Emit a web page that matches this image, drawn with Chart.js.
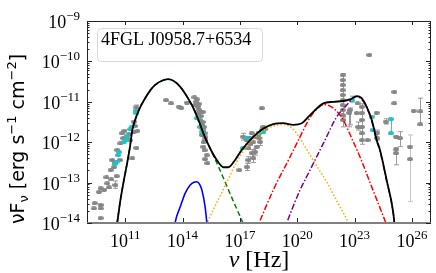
<!DOCTYPE html>
<html>
<head>
<meta charset="utf-8">
<script src="https://cdn.jsdelivr.net/npm/chart.js@4.4.1/dist/chart.umd.min.js"></script>
<style>
html, body { margin: 0; padding: 0; background: #fff; }
#wrap { width: 436px; height: 273px; }
</style>
</head>
<body>
<div id="wrap"><canvas id="sed"></canvas></div>
<script>
// everything below is log10(nu / Hz) and log10(nuFnu / erg s-1 cm-2)
const xTickExps = [11, 14, 17, 20, 23, 26];
const yTickExps = [-9, -10, -11, -12, -13, -14];
const sourceName = '4FGL J0958.7+6534';

const grayPts = [
    // radio / mm
    [11.59, -11.14], [11.45, -11.74], [11.63, -11.72], [10.96, -11.72], [11.07, -11.86],
    [11.25, -11.95], [11.59, -12.14], [10.75, -12.03], [10.58, -12.19], [10.72, -12.44],
    [11.37, -12.40], [10.32, -12.44], [10.23, -12.69], [10.41, -12.62], [10.55, -12.84],
    [10.02, -12.87], [10.27, -12.92], [10.06, -13.02], [9.71, -13.14], [9.63, -13.23],
    [9.89, -13.18], [10.15, -13.12], [10.49, -13.06], [9.40, -13.51], [9.71, -13.55],
    [9.71, -13.64], [9.36, -13.64], [9.71, -13.88], [11.45, -11.49], [10.84, -11.78],
    [10.90, -11.90], [11.50, -11.60], [11.20, -11.80], [10.45, -12.50],
    // IR / optical / UV
    [13.14, -10.96], [13.40, -11.04], [13.82, -11.12], [13.93, -11.15], [14.23, -11.02],
    [14.62, -10.89], [14.75, -10.94], [14.66, -11.08], [14.80, -11.12], [14.83, -11.28],
    [14.92, -11.45], [15.01, -11.57], [15.09, -11.70], [15.01, -11.82], [15.18, -11.95],
    [15.09, -12.11], [15.27, -12.32], [15.18, -12.42], [15.30, -12.52], [14.88, -11.20],
    [14.95, -11.35], [15.05, -11.50], [15.12, -11.62], [15.00, -11.65], [15.15, -11.78],
    [15.20, -11.88], [15.10, -12.00], [14.70, -11.00], [14.85, -11.05], [15.05, -11.25],
    [15.15, -12.20],
    // X-ray
    [18.15, -11.16], [17.18, -11.86], [17.36, -11.95], [17.53, -11.90], [17.62, -11.78],
    [17.80, -11.86], [17.97, -11.82], [18.15, -11.70], [18.23, -11.62], [18.32, -11.68],
    [17.45, -12.15], [17.62, -12.27], [17.71, -12.40], [17.45, -12.44], [17.88, -12.11],
    [18.06, -11.99], [17.80, -12.24], [16.97, -12.69], [17.36, -12.61], [17.55, -12.05],
    [17.70, -12.00], [18.00, -11.90],
    // gamma-ray
    [22.38, -10.34], [22.38, -10.46], [22.38, -10.58], [22.38, -10.71], [22.38, -10.83],
    [22.38, -10.96], [22.38, -11.08], [22.38, -11.20], [22.38, -11.33], [22.41, -11.45],
    [22.72, -11.27], [22.76, -11.20], [23.16, -11.04], [23.11, -11.28], [23.19, -11.62],
    [23.38, -11.12], [23.38, -11.28], [23.38, -11.45], [23.38, -11.62], [23.38, -11.78],
    [23.38, -11.95], [23.68, -11.95], [23.77, -9.84], [24.15, -11.27], [24.19, -11.76],
    [24.19, -11.90], [24.64, -11.49], [25.08, -10.75], [25.08, -11.04], [25.17, -11.86],
    [25.17, -12.18], [25.17, -12.27], [25.38, -11.90], [25.90, -12.11], [25.90, -12.42],
    [26.09, -11.22], [26.44, -11.24], [26.44, -11.56]
];
// [logNu, low, high]
const grayErr = [
    [11.59, -11.20, -11.08], [10.49, -13.14, -12.96],
    [17.18, -11.95, -11.78], [17.36, -12.05, -11.86], [17.62, -12.37, -12.18],
    [17.71, -12.50, -12.30], [17.45, -12.52, -12.36], [17.80, -12.32, -12.15],
    [18.06, -12.08, -11.90], [17.97, -11.90, -11.74], [17.36, -12.70, -12.52],
    [18.15, -11.78, -11.62],
    [22.38, -11.36, -10.30], [22.41, -11.62, -11.38], [22.72, -11.62, -11.20],
    [22.76, -11.57, -11.15], [23.38, -12.05, -11.05], [23.19, -11.70, -11.50],
    [24.19, -11.95, -11.70], [24.64, -11.55, -11.42], [25.17, -12.56, -12.15],
    [25.38, -12.11, -11.74], [26.44, -11.57, -10.91]
];
const paleErr = [
    [25.90, -13.47, -11.82]
];
const cyanPts = [
    [11.54, -11.22], [11.59, -11.28], [11.33, -11.62], [11.25, -11.68], [11.10, -11.84],
    [10.93, -11.99], [11.02, -11.95], [10.67, -12.24], [10.62, -12.32], [10.55, -12.48],
    [10.44, -12.54],
    [14.75, -11.41], [14.92, -11.62], [15.04, -11.74],
    [17.15, -12.15], [17.36, -11.90], [18.02, -11.78], [18.23, -11.74],
    [22.88, -10.96], [23.90, -11.37], [23.95, -11.70], [24.90, -11.43], [24.90, -11.78]
];
const cyanErr = [
    [22.88, -11.01, -10.86], [24.90, -11.78, -11.43]
];

const totalModel = [
    [10.52, -14.20], [10.58, -14.00], [10.75, -13.43], [10.93, -12.94], [11.10, -12.52],
    [11.25, -12.11], [11.37, -11.70], [11.49, -11.49], [11.72, -11.20], [11.98, -10.96],
    [12.32, -10.71], [12.57, -10.58], [12.92, -10.48], [13.23, -10.44], [13.52, -10.48],
    [13.88, -10.63], [14.23, -10.87], [14.57, -11.16], [14.83, -11.45], [15.09, -11.78],
    [15.44, -12.15], [15.79, -12.44], [16.14, -12.62], [16.40, -12.62], [16.75, -12.44],
    [17.10, -12.19], [17.71, -11.86], [18.23, -11.66], [18.75, -11.55], [19.27, -11.53],
    [19.80, -11.57], [20.24, -11.53], [20.67, -11.33], [21.37, -11.04], [21.89, -11.00],
    [22.41, -10.98], [22.76, -10.94], [23.11, -10.86], [23.37, -10.91], [23.63, -11.12],
    [23.90, -11.45], [24.16, -11.95], [24.33, -12.19], [24.68, -12.94], [25.03, -13.76],
    [25.12, -14.20]
];
const synModel = [
    [10.52, -14.20], [10.58, -14.00], [10.75, -13.43], [10.93, -12.94], [11.10, -12.52],
    [11.25, -12.11], [11.37, -11.70], [11.49, -11.49], [11.72, -11.20], [11.98, -10.96],
    [12.32, -10.71], [12.57, -10.58], [12.92, -10.48], [13.23, -10.44], [13.52, -10.48],
    [13.88, -10.63], [14.23, -10.87], [14.57, -11.16], [14.83, -11.45], [15.09, -11.78],
    [15.44, -12.15], [15.79, -12.51], [16.15, -12.90], [16.50, -13.29], [16.90, -13.72],
    [17.15, -13.99], [17.30, -14.20]
];
const sscModel = [
    [15.07, -14.20], [15.27, -14.00], [15.80, -13.49], [16.30, -13.01], [16.84, -12.48],
    [17.30, -12.15], [17.71, -11.92], [18.23, -11.72], [18.75, -11.60], [19.27, -11.56],
    [19.75, -11.66], [20.20, -11.95], [20.90, -12.50], [21.54, -12.98], [22.10, -13.48],
    [22.75, -14.05], [22.90, -14.20]
];
const ecModelA = [
    [17.82, -14.20], [18.00, -14.00], [18.75, -13.18], [19.63, -12.36], [20.06, -11.95],
    [20.67, -11.39], [21.05, -11.17], [21.40, -11.07], [21.89, -11.16], [22.41, -11.45],
    [22.85, -11.90], [23.28, -12.36], [23.96, -13.18], [24.64, -14.00], [24.80, -14.20]
];
const ecModelB = [
    [19.30, -14.20], [19.45, -14.00], [20.15, -13.18], [20.67, -12.69], [21.45, -11.95],
    [22.07, -11.37], [22.59, -11.08], [22.93, -10.91], [23.13, -10.87], [23.37, -10.94],
    [23.63, -11.14], [23.90, -11.48], [24.16, -11.97], [24.33, -12.22], [24.68, -12.96],
    [25.03, -13.78], [25.12, -14.20]
];
const diskModel = [
    [13.55, -14.20], [13.61, -13.99], [13.88, -13.60], [14.14, -13.26], [14.40, -13.06],
    [14.60, -12.99], [14.75, -12.98], [14.90, -13.05], [15.01, -13.18], [15.18, -13.60],
    [15.27, -13.99], [15.32, -14.20]
];

const toPts = arr => arr.map(p => ({ x: Math.pow(10, p[0]), y: Math.pow(10, p[1]) }));

function blob(w, h, color) {
    const c = document.createElement('canvas');
    c.width = w; c.height = h;
    const g = c.getContext('2d');
    g.fillStyle = color;
    g.beginPath();
    g.ellipse(w / 2, h / 2, w / 2, h / 2, 0, 0, Math.PI * 2);
    g.fill();
    return c;
}
const grayMark = blob(6, 4, '#868686');
const cyanMark = blob(6, 4, '#22c0c2');

function modelLine(data, color, width, dash) {
    return {
        data: toPts(data),
        showLine: true,
        borderColor: color,
        borderWidth: width,
        borderDash: dash,
        pointRadius: 0,
        cubicInterpolationMode: 'monotone',
        clip: 0
    };
}

function drawPow(ctx, x, y, exp, align) {
    const big = "18px 'Liberation Serif', serif";
    const small = "13px 'Liberation Serif', serif";
    const sup = String(exp).replace('-', '\u2212');
    ctx.font = big;
    const wb = ctx.measureText('10').width;
    ctx.font = small;
    const ws = ctx.measureText(sup).width;
    let x0 = align === 'right' ? x - wb - ws : x - (wb + ws) / 2;
    ctx.textAlign = 'left';
    ctx.textBaseline = 'alphabetic';
    ctx.font = big;
    ctx.fillText('10', x0, y);
    ctx.font = small;
    ctx.fillText(sup, x0 + wb, y - 8);
}

const sedAxes = {
    id: 'sedAxes',
    beforeDatasetsDraw(chart) {
        const { ctx, chartArea: a, scales: { x, y } } = chart;
        ctx.save();
        ctx.beginPath();
        ctx.rect(a.left, a.top, a.right - a.left, a.bottom - a.top);
        ctx.clip();
        const bars = (list, color) => {
            ctx.strokeStyle = color;
            ctx.lineWidth = 1;
            list.forEach(e => {
                const px = Math.round(x.getPixelForValue(Math.pow(10, e[0]))) + 0.5;
                const lo = y.getPixelForValue(Math.pow(10, e[1]));
                const hi = y.getPixelForValue(Math.pow(10, e[2]));
                ctx.beginPath();
                ctx.moveTo(px, lo); ctx.lineTo(px, hi);
                ctx.moveTo(px - 2.5, lo); ctx.lineTo(px + 2.5, lo);
                ctx.moveTo(px - 2.5, hi); ctx.lineTo(px + 2.5, hi);
                ctx.stroke();
            });
        };
        bars(paleErr, '#c4c4c4');
        bars(grayErr, '#9a9a9a');
        bars(cyanErr, '#3cc6c8');
        ctx.restore();
    },
    afterDraw(chart) {
        const { ctx, chartArea: a, scales: { x, y } } = chart;
        ctx.save();
        ctx.fillStyle = '#000';
        ctx.strokeStyle = '#222';
        ctx.lineWidth = 1;

        // frame
        ctx.beginPath();
        ctx.moveTo(a.left + 0.5, a.bottom);
        ctx.lineTo(a.left + 0.5, a.top + 0.5);
        ctx.lineTo(a.right - 0.5, a.top + 0.5);
        ctx.lineTo(a.right - 0.5, a.bottom);
        ctx.stroke();
        ctx.strokeStyle = '#808080';
        ctx.lineWidth = 2;
        ctx.beginPath();
        ctx.moveTo(a.left, a.bottom);
        ctx.lineTo(a.right, a.bottom);
        ctx.stroke();

        // inward ticks
        ctx.strokeStyle = '#222';
        ctx.lineWidth = 1;
        ctx.beginPath();
        xTickExps.forEach(e => {
            const px = Math.round(x.getPixelForValue(Math.pow(10, e))) + 0.5;
            ctx.moveTo(px, a.top); ctx.lineTo(px, a.top + 4);
            ctx.moveTo(px, a.bottom - 1); ctx.lineTo(px, a.bottom - 5);
        });
        for (let d = -14; d <= -9; d++) {
            for (let k = 1; k <= 9; k++) {
                if (d === -9 && k > 1) break;
                const py = Math.round(y.getPixelForValue(k * Math.pow(10, d))) + 0.5;
                const len = k === 1 ? 5 : 2.5;
                ctx.moveTo(a.left, py); ctx.lineTo(a.left + len, py);
                ctx.moveTo(a.right, py); ctx.lineTo(a.right - len, py);
            }
        }
        ctx.stroke();

        // tick labels
        xTickExps.forEach(e => drawPow(ctx, x.getPixelForValue(Math.pow(10, e)), 247, e, 'center'));
        yTickExps.forEach(e => drawPow(ctx, 80, y.getPixelForValue(Math.pow(10, e)) + 7, e, 'right'));

        // x title
        ctx.font = "italic 24px 'Liberation Serif', serif";
        const wNu = ctx.measureText('\u03bd').width;
        ctx.font = "24px 'Liberation Serif', serif";
        const wHz = ctx.measureText(' [Hz]').width;
        const cx = (a.left + a.right) / 2;
        let tx = cx - (wNu + wHz) / 2;
        ctx.textAlign = 'left';
        ctx.font = "italic 24px 'Liberation Serif', serif";
        ctx.fillText('\u03bd', tx, 267);
        ctx.font = "24px 'Liberation Serif', serif";
        ctx.fillText(' [Hz]', tx + wNu, 267);

        // y title, built from pieces: [text, isScript, shift]
        const big = "19px 'DejaVu Sans', sans-serif";
        const small = "13px 'DejaVu Sans', sans-serif";
        const parts = [
            ['\u03bdF', big, 0], ['\u03bd', small, 4], [' [erg s', big, 0],
            ['\u22121', small, -8], [' cm', big, 0], ['\u22122', small, -8], [']', big, 0]
        ];
        let total = 0;
        parts.forEach(p => { ctx.font = p[1]; total += ctx.measureText(p[0]).width; });
        ctx.translate(24, 139);
        ctx.rotate(-Math.PI / 2);
        let ux = -total / 2;
        parts.forEach(p => {
            ctx.font = p[1];
            ctx.fillText(p[0], ux, p[2]);
            ux += ctx.measureText(p[0]).width;
        });
        ctx.setTransform(1, 0, 0, 1, 0, 0);

        // source label box
        ctx.beginPath();
        ctx.roundRect(97.5, 28.5, 165, 33, 4);
        ctx.fillStyle = 'rgba(255,255,255,0.85)';
        ctx.fill();
        ctx.strokeStyle = '#d8d8d8';
        ctx.stroke();
        ctx.fillStyle = '#000';
        ctx.font = "18px 'Liberation Serif', serif";
        ctx.fillText(sourceName, 101, 45);
        ctx.restore();
    }
};

new Chart(document.getElementById('sed'), {
    type: 'scatter',
    data: {
        datasets: [
            modelLine(totalModel, '#000000', 1.8, []),
            modelLine(diskModel, '#0000ff', 1.6, []),
            modelLine(ecModelB, '#800080', 1.5, [6, 2, 1.5, 2]),
            modelLine(ecModelA, '#ff0000', 1.5, [6, 2, 1.5, 2]),
            modelLine(sscModel, '#ffa500', 1.5, [1.5, 2]),
            modelLine(synModel, '#008000', 1.5, [5, 3]),
            { data: toPts(cyanPts), pointStyle: cyanMark, pointRadius: 3, clip: 0 },
            { data: toPts(grayPts), pointStyle: grayMark, pointRadius: 3, clip: 0 }
        ]
    },
    options: {
        responsive: true,
        maintainAspectRatio: false,
        animation: false,
        layout: { padding: { left: 87, top: 21, right: 5, bottom: 50 } },
        plugins: { legend: { display: false }, tooltip: { enabled: false } },
        scales: {
            x: { type: 'logarithmic', min: 1e9, max: 1e27, display: false },
            y: { type: 'logarithmic', min: 1e-14, max: 1e-9, display: false }
        }
    },
    plugins: [sedAxes]
});
</script>
</body>
</html>
